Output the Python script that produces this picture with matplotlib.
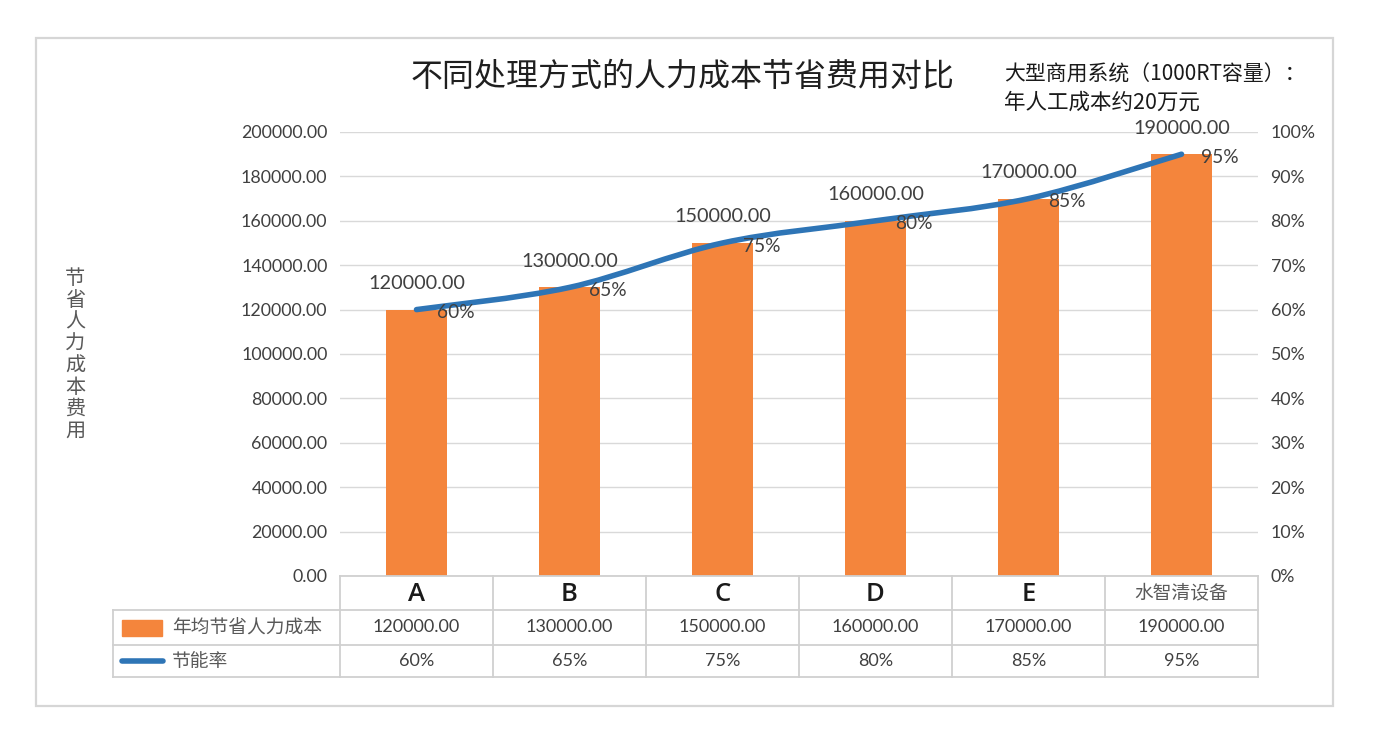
import matplotlib
matplotlib.use("Agg")
import matplotlib.pyplot as plt
from matplotlib.path import Path
from matplotlib.patches import PathPatch, Rectangle
from matplotlib.lines import Line2D
from matplotlib.ticker import FuncFormatter, MultipleLocator

plt.rcParams['font.family'] = ['Lato', 'Noto Sans CJK SC', 'DejaVu Sans']

categories = ['A', 'B', 'C', 'D', 'E', '水智清设备']
savings = [120000, 130000, 150000, 160000, 170000, 190000]
rate = [0.60, 0.65, 0.75, 0.80, 0.85, 0.95]
bar_name = '年均节省人力成本'
line_name = '节能率'

W, H = 1385, 730
orange = '#F4853C'
blue = '#2E75B6'
txt = '#404040'
grid = '#D9D9D9'
cjk = ['Noto Sans CJK SC', 'DejaVu Sans']

fig = plt.figure(figsize=(W / 100, H / 100), dpi=100)
fig.patches.append(Rectangle((36 / W, 1 - 706 / H), 1297 / W, 668 / H, transform=fig.transFigure,
                             fill=False, edgecolor='#D6D6D6', linewidth=1.6))

ax = fig.add_axes([340 / W, 1 - 576 / H, 918 / W, 444 / H])
x = list(range(len(categories)))
bars = ax.bar(x, savings, width=0.4, color=orange, zorder=2)
ax.set_xlim(-0.5, len(categories) - 0.5)
ax.set_ylim(0, 200000)
ax.yaxis.set_major_locator(MultipleLocator(20000))
ax.yaxis.set_major_formatter(FuncFormatter(lambda v, p: '%.2f' % v))
ax.grid(axis='y', color=grid, linewidth=1, zorder=0)
ax.set_axisbelow(True)
ax.set_xticks([])
for s in ax.spines.values():
    s.set_visible(False)
ax.tick_params(axis='y', length=0, pad=9, labelsize=12.8, labelcolor=txt)

for xi, v in zip(x, savings):
    ax.annotate('%.2f' % v, (xi, v), xytext=(0, 26), textcoords='offset pixels',
                ha='center', va='center', fontsize=14.3, color=txt)

ax2 = ax.twinx()
ax2.set_ylim(0, 1)
ax2.yaxis.set_major_locator(MultipleLocator(0.1))
ax2.yaxis.set_major_formatter(FuncFormatter(lambda v, p: '%d%%' % round(v * 100)))
for s in ax2.spines.values():
    s.set_visible(False)
ax2.tick_params(axis='y', length=0, pad=9, labelsize=12.8, labelcolor=txt)

# smoothed line like Excel (bezier through the data points)
n = len(rate)
pts = list(zip(x, rate))
verts = [pts[0]]
codes = [Path.MOVETO]
for i in range(n - 1):
    p0 = pts[max(i - 1, 0)]
    p1 = pts[i]
    p2 = pts[i + 1]
    p3 = pts[min(i + 2, n - 1)]
    c1 = (p1[0] + (p2[0] - p0[0]) / 6, p1[1] + (p2[1] - p0[1]) / 6)
    c2 = (p2[0] - (p3[0] - p1[0]) / 6, p2[1] - (p3[1] - p1[1]) / 6)
    verts += [c1, c2, p2]
    codes += [Path.CURVE4] * 3
ax2.add_patch(PathPatch(Path(verts, codes), fill=False, edgecolor=blue, linewidth=4,
                        capstyle='round', joinstyle='round', zorder=3))

for xi, r in zip(x, rate):
    ax2.annotate('%d%%' % round(r * 100), (xi, r), xytext=(20, -3), textcoords='offset pixels',
                 ha='left', va='center', fontsize=13.8, color=txt)

# data table under the plot
rows = [0, -34 / 444, -69 / 444, -101 / 444]
left = -227 / 918
lc = '#D0D0D0'
tr = ax.transAxes
def hline(y, x0, x1):
    ax.add_line(Line2D([x0, x1], [y, y], transform=tr, color=lc, linewidth=1.3, clip_on=False))
def vline(xx, y0, y1):
    ax.add_line(Line2D([xx, xx], [y0, y1], transform=tr, color=lc, linewidth=1.3, clip_on=False))

hline(rows[0], 0, 1)
for y in rows[1:]:
    hline(y, left, 1)
for i in range(n + 1):
    vline(i / n, rows[0], rows[3])
vline(left, rows[1], rows[3])

mid1 = (rows[0] + rows[1]) / 2
mid2 = (rows[1] + rows[2]) / 2
mid3 = (rows[2] + rows[3]) / 2
for i, c in enumerate(categories):
    cx = (i + 0.5) / n
    if len(c) == 1:
        ax.text(cx, mid1 - 0.003, c, transform=tr, ha='center', va='center', fontsize=18.5,
                color='#1A1A1A', family=['Open Sans', 'DejaVu Sans'], weight='semibold')
    else:
        ax.text(cx, mid1, c, transform=tr, ha='center', va='center', fontsize=13.5,
                color='#595959', family=cjk)
    ax.text(cx, mid2, '%.2f' % savings[i], transform=tr, ha='center', va='center',
            fontsize=13, color=txt)
    ax.text(cx, mid3, '%d%%' % round(rate[i] * 100), transform=tr, ha='center', va='center',
            fontsize=13, color=txt)

ax.add_patch(Rectangle((left + 9 / 918, mid2 - 8 / 444), 40 / 918, 16 / 444, transform=tr,
                       color=orange, clip_on=False))
ax.add_line(Line2D([left + 9 / 918, left + 50 / 918], [mid3, mid3], transform=tr, color=blue,
                   linewidth=4, solid_capstyle='round', clip_on=False))
ax.text(left + 59 / 918, mid2, bar_name, transform=tr, ha='left', va='center', fontsize=13.5,
        color='#595959', family=cjk)
ax.text(left + 59 / 918, mid3, line_name, transform=tr, ha='left', va='center', fontsize=13.5,
        color='#595959', family=cjk)

fig.text(683 / W, 1 - 77 / H, '不同处理方式的人力成本节省费用对比', ha='center', va='center',
         fontsize=23, color='#1F1F1F', family=cjk)
fig.text(1004 / W, 1 - 75 / H, '大型商用系统（1000RT容量）：', ha='left', va='center',
         fontsize=15, color='#1A1A1A', family=cjk)
fig.text(1004 / W, 1 - 103 / H, '年人工成本约20万元', ha='left', va='center',
         fontsize=15.5, color='#1A1A1A', family=cjk)
fig.text(75 / W, 1 - 355 / H, '\n'.join('节省人力成本费用'), ha='center', va='center',
         fontsize=14.5, color='#595959', family=cjk, linespacing=1.05)

fig.savefig('out.png', dpi=100, facecolor='white')
